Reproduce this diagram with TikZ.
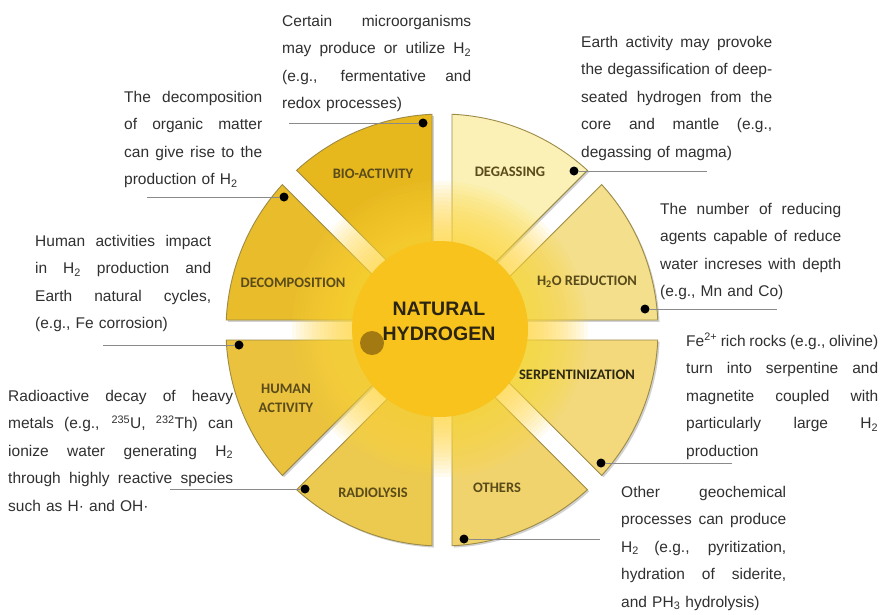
\documentclass[tikz,border=0pt]{standalone}
\usepackage{fontspec}
\setmainfont{Liberation Sans}
\newfontfamily\lblfont{Carlito}
\usetikzlibrary{calc}
\definecolor{secH}{HTML}{F4DF8C}
\definecolor{secDeg}{HTML}{FBF1B6}
\definecolor{secBio}{HTML}{E7B71E}
\definecolor{secDec}{HTML}{E9BC2B}
\definecolor{secHum}{HTML}{EAC23D}
\definecolor{secRad}{HTML}{ECC94F}
\definecolor{secOth}{HTML}{F0D36C}
\definecolor{secSer}{HTML}{F3D97C}
\definecolor{secedge}{HTML}{9C8A45}
\definecolor{suncol}{HTML}{F7C31C}
\definecolor{glowcol}{HTML}{FFD83A}
\definecolor{browndot}{HTML}{A37A12}
\definecolor{lbltext}{HTML}{5A4B1A}
\definecolor{serptext}{HTML}{2E2A12}
\definecolor{titletext}{HTML}{2A2410}
\definecolor{desctext}{HTML}{303030}
\definecolor{connline}{HTML}{8A8A8A}
\newlength\jw
\newcommand\jline[1]{\makebox[\jw][s]{\spaceskip=.25em plus 1fil minus .05em\relax #1}}
\newcommand\hsub[1]{\textsubscript{#1}}
\newcommand\hsup[1]{\textsuperscript{#1}}
\begin{document}
\begin{tikzpicture}[x=1pt,y=1pt,
  desc/.style={anchor=base west, inner sep=0pt, align=left, text=desctext,
    font=\fontsize{15.5}{27.5}\selectfont},
  seclabel/.style={font=\lblfont\bfseries\fontsize{14.5}{19}\selectfont,
    text=lbltext, align=center, inner sep=0pt},
  conn/.style={draw=connline, line width=0.9pt},
  dotn/.style={circle, fill=black, inner sep=0pt, minimum size=9pt},
  secfill/.style={draw=secedge, line width=0.9pt}
]
\useasboundingbox (0,0) rectangle (890,-614);
\fill[white] (0,0) rectangle (890,-614);

% ---- wheel ----
\begin{scope}[shift={(442,-330)}]
  \foreach \a/\col in {0/secH, 45/secDeg, 90/secBio, 135/secDec, 180/secHum, 225/secRad, 270/secOth, 315/secSer} {
    \pgfmathsetmacro\s{\a+2.654}
    \pgfmathsetmacro\e{\a+45-2.654}
    \pgfmathsetmacro\m{\a+22.5}
    \fill[black, opacity=0.18, shift={(1.8,-1.8)}] (\m:26.13) -- (\s:216) arc[start angle=\s, end angle=\e, radius=216] -- cycle;
    \filldraw[secfill, fill=\col] (\m:26.13) -- (\s:216) arc[start angle=\s, end angle=\e, radius=216] -- cycle;
  }
  \foreach \i in {0,...,15} {
    \fill[glowcol, opacity=0.08] (-2,1) circle ({88+4*\i});
  }
  \fill[suncol] (-2,1) circle (88);
  \fill[browndot] (-70,-13) circle (12);
\end{scope}

\node[font=\bfseries\fontsize{19.5}{25}\selectfont, text=titletext, align=center, inner sep=0pt] (title) at (439,-321) {NATURAL\\HYDROGEN};

% ---- sector labels ----
\node[seclabel] (lbio) at (373,-174) {BIO-ACTIVITY};
\node[seclabel] (ldec) at (293,-283) {DECOMPOSITION};
\node[seclabel] (ldeg) at (510,-172) {DEGASSING};
\node[seclabel] (lh2o) at (587,-282) {H\hsub{2}O REDUCTION};
\node[seclabel] (lhum) at (286,-398) {HUMAN\\ACTIVITY};
\node[seclabel] (lrad) at (373,-493) {RADIOLYSIS};
\node[seclabel, text=serptext] (lser) at (577,-375) {SERPENTINIZATION};
\node[seclabel] (loth) at (497,-488) {OTHERS};

% ---- dots and connectors ----
\node[dotn] (dbio) at (423,-123) {};
\node[dotn] (ddec) at (284,-197) {};
\node[dotn] (ddeg) at (574,-171) {};
\node[dotn] (dh2o) at (645,-309) {};
\node[dotn] (dhum) at (239,-345) {};
\node[dotn] (drad) at (305,-489) {};
\node[dotn] (dser) at (601,-463) {};
\node[dotn] (doth) at (464,-539) {};
\coordinate (ebio) at (289,-123);
\coordinate (edec) at (147,-197);
\coordinate (edeg) at (707,-171);
\coordinate (eh2o) at (777,-309);
\coordinate (ehum) at (103,-345);
\coordinate (erad) at (170,-489);
\coordinate (eser) at (732,-463);
\coordinate (eoth) at (600,-539);
\draw[conn] (dbio.west) -- (ebio);
\draw[conn] (ddec.west) -- (edec);
\draw[conn] (ddeg.east) -- (edeg);
\draw[conn] (dh2o.east) -- (eh2o);
\draw[conn] (dhum.west) -- (ehum);
\draw[conn] (drad.west) -- (erad);
\draw[conn] (dser.east) -- (eser);
\draw[conn] (doth.east) -- (eoth);

% ---- descriptions ----
\node[desc, text width=189pt] (tbio) at (282,-26) {\setlength\jw{189pt}%
\jline{Certain microorganisms}\\
\jline{may produce or utilize H\hsub{2}}\\
\jline{(e.g., fermentative and}\\
redox processes)};

\node[desc, text width=138pt] (tdec) at (124,-102) {\setlength\jw{138pt}%
\jline{The decomposition}\\
\jline{of organic matter}\\
\jline{can give rise to the}\\
production of H\hsub{2}};

\node[desc, text width=191pt] (tdeg) at (581,-47) {\setlength\jw{191pt}%
\jline{Earth activity may provoke}\\
\jline{the degassification of deep-}\\
\jline{seated hydrogen from the}\\
\jline{core and mantle (e.g.,}\\
degassing of magma)};

\node[desc, text width=181pt] (th2o) at (660,-214) {\setlength\jw{181pt}%
\jline{The number of reducing}\\
\jline{agents capable of reduce}\\
\jline{water increses with depth}\\
(e.g., Mn and Co)};

\node[desc, text width=176pt] (thum) at (35,-246) {\setlength\jw{176pt}%
\jline{Human activities impact}\\
\jline{in H\hsub{2} production and}\\
\jline{Earth natural cycles,}\\
(e.g., Fe corrosion)};

\node[desc, text width=192pt] (tser) at (686,-346) {\setlength\jw{192pt}%
\jline{Fe\hsup{2+} rich rocks (e.g., olivine)}\\
\jline{turn into serpentine and}\\
\jline{magnetite coupled with}\\
\jline{particularly large H\hsub{2}}\\
production};

\node[desc, text width=225pt] (trad) at (8,-401) {\setlength\jw{225pt}%
\jline{Radioactive decay of heavy}\\
\jline{metals (e.g., \hsup{235}U, \hsup{232}Th) can}\\
\jline{ionize water generating H\hsub{2}}\\
\jline{through highly reactive species}\\
such as H· and OH·};

\node[desc, text width=165pt] (toth) at (621,-497) {\setlength\jw{165pt}%
\jline{Other geochemical}\\
\jline{processes can produce}\\
\jline{H\hsub{2} (e.g., pyritization,}\\
\jline{hydration of siderite,}\\
and PH\hsub{3} hydrolysis)};
\end{tikzpicture}
\end{document}
